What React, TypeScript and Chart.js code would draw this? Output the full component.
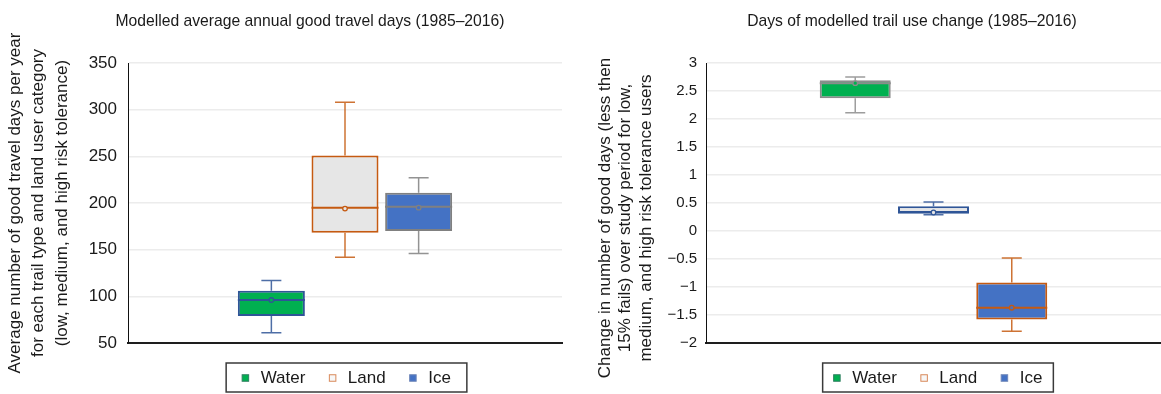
import React, { useEffect, useRef } from 'react';
import { Chart, registerables } from 'chart.js';

Chart.register(...registerables);

const FONT = '"Liberation Sans", Arial, Helvetica, sans-serif';
const TEXT = '#1a1a1a';

// ---- Data ----
const seriesNames = ['Water', 'Land', 'Ice'];

// Left panel: modelled average annual good travel days
const daysMin = [61, 142, 146];
const daysQ1 = [79, 168, 170];
const daysMedian = [96, 195, 196];
const daysQ3 = [106, 251, 211];
const daysMax = [117, 308, 227];
const daysMean = [96, 194, 195];
const daysTicks = [50, 100, 150, 200, 250, 300, 350];

// Right panel: change in days of trail use
const changeMin = [2.11, 0.29, -1.79];
const changeQ1 = [2.37, 0.31, -1.58];
const changeMedian = [2.64, 0.34, -1.37];
const changeQ3 = [2.69, 0.44, -0.92];
const changeMax = [2.75, 0.52, -0.48];
const changeMean = [2.64, 0.33, -1.37];
const changeTicks = [-2, -1.5, -1, -0.5, 0, 0.5, 1, 1.5, 2, 2.5, 3];

// ---- Styles ----
const leftFill = ['#00b050', '#e6e6e6', '#4472c4'];
const leftBorder = ['#2f5597', '#c55a11', '#808080'];
const rightFill = ['#00b050', '#e6e6e6', '#4472c4'];
const rightBorder = ['#8c8c8c', '#2f5597', '#c55a11'];
const legendFill = ['#00b050', '#f7f7f7', '#4472c4'];
const legendStroke = ['#2f7f60', '#d9895a', '#6f86b8'];

function boxPlugin() {
  return {
    id: 'boxExtras',
    beforeDatasetsDraw(chart: any) {
      const ctx = chart.ctx;
      const y = chart.scales.y;
      chart.data.datasets.forEach((ds: any, i: number) => {
        const bar = chart.getDatasetMeta(i).data[0];
        if (!bar) return;
        const x = bar.x;
        const cap = 10;
        ctx.save();
        ctx.strokeStyle = ds.borderColor;
        ctx.globalAlpha = 0.85;
        ctx.lineWidth = 1.5;
        const yq1 = y.getPixelForValue(ds.q1);
        const yq3 = y.getPixelForValue(ds.q3);
        const ymin = y.getPixelForValue(ds.wMin);
        const ymax = y.getPixelForValue(ds.wMax);
        ctx.beginPath();
        ctx.moveTo(x, yq3);
        ctx.lineTo(x, ymax);
        ctx.moveTo(x - cap, ymax);
        ctx.lineTo(x + cap, ymax);
        ctx.moveTo(x, yq1);
        ctx.lineTo(x, ymin);
        ctx.moveTo(x - cap, ymin);
        ctx.lineTo(x + cap, ymin);
        ctx.stroke();
        ctx.restore();
      });
    },
    afterDatasetsDraw(chart: any) {
      const ctx = chart.ctx;
      const y = chart.scales.y;
      chart.data.datasets.forEach((ds: any, i: number) => {
        const bar = chart.getDatasetMeta(i).data[0];
        if (!bar) return;
        const x = bar.x;
        const w = bar.width;
        ctx.save();
        ctx.strokeStyle = ds.borderColor;
        ctx.lineWidth = 2;
        const ym = y.getPixelForValue(ds.median);
        ctx.beginPath();
        ctx.moveTo(x - w / 2, ym);
        ctx.lineTo(x + w / 2, ym);
        ctx.stroke();
        const ymean = y.getPixelForValue(ds.mean);
        ctx.beginPath();
        ctx.arc(x, ymean, 2.3, 0, Math.PI * 2);
        ctx.fillStyle = ds.backgroundColor;
        ctx.fill();
        ctx.lineWidth = 1.3;
        ctx.stroke();
        ctx.restore();
      });
    },
  };
}

function titlePlugin(text: string, cx: number, cy: number) {
  return {
    id: 'panelTitle',
    afterDraw(chart: any) {
      const ctx = chart.ctx;
      ctx.save();
      ctx.font = `15.7px ${FONT}`;
      ctx.fillStyle = TEXT;
      ctx.textAlign = 'center';
      ctx.textBaseline = 'middle';
      ctx.fillText(text, cx, cy);
      ctx.restore();
    },
  };
}

function yTitlePlugin(lines: string[], x0: number, spacing: number, cy: number, size: number) {
  return {
    id: 'yTitle',
    afterDraw(chart: any) {
      const ctx = chart.ctx;
      ctx.save();
      ctx.font = `${size}px ${FONT}`;
      ctx.fillStyle = TEXT;
      ctx.textAlign = 'center';
      ctx.textBaseline = 'middle';
      lines.forEach((line, i) => {
        ctx.save();
        ctx.translate(x0 + i * spacing, cy);
        ctx.rotate(-Math.PI / 2);
        ctx.fillText(line, 0, 0);
        ctx.restore();
      });
      ctx.restore();
    },
  };
}

function legendPlugin(padX: number, offsetX: number) {
  return {
    id: 'boxLegend',
    afterDraw(chart: any) {
      const ctx = chart.ctx;
      const top = 363;
      const h = 29;
      const marker = 6.5;
      const gapMT = 12;
      const gapItems = 24;
      ctx.save();
      ctx.font = `17px ${FONT}`;
      const widths = seriesNames.map((s) => ctx.measureText(s).width);
      let total = padX * 2 + gapItems * (seriesNames.length - 1);
      widths.forEach((w) => (total += marker + gapMT + w));
      const cx = (chart.chartArea.left + chart.chartArea.right) / 2 + offsetX;
      const left = cx - total / 2;
      ctx.strokeStyle = '#3a3a3a';
      ctx.lineWidth = 1.5;
      ctx.strokeRect(left, top, total, h);
      let x = left + padX;
      const my = top + h / 2 + 0.5;
      seriesNames.forEach((s, i) => {
        ctx.fillStyle = legendFill[i];
        ctx.fillRect(x, my - marker / 2, marker, marker);
        ctx.strokeStyle = legendStroke[i];
        ctx.lineWidth = 1;
        ctx.strokeRect(x, my - marker / 2, marker, marker);
        x += marker + gapMT;
        ctx.fillStyle = TEXT;
        ctx.textAlign = 'left';
        ctx.textBaseline = 'middle';
        ctx.fillText(s, x, my);
        x += widths[i] + gapItems;
      });
      ctx.restore();
    },
  };
}

type PanelCfg = {
  width: number;
  q1: number[];
  q3: number[];
  min: number[];
  max: number[];
  median: number[];
  mean: number[];
  fill: string[];
  border: string[];
  ticks: number[];
  yTitle: string[];
  yTitleSize: number;
  yTitleX: number;
  yTitleSpacing: number;
  yTitleY: number;
  tickSize: number;
  tickPad: number;
  axisWidth: number;
  padRight: number;
  catPct: number;
  barPct: number;
  title: string;
  titleX: number;
  legendPad: number;
  legendOffset: number;
  fmt: (v: number) => string;
};

function Panel({ cfg }: { cfg: PanelCfg }) {
  const ref = useRef<HTMLCanvasElement | null>(null);
  useEffect(() => {
    if (!ref.current) return;
    const datasets = seriesNames.map((name, i) => ({
      label: name,
      data: [[cfg.q1[i], cfg.q3[i]]],
      backgroundColor: cfg.fill[i],
      borderColor: cfg.border[i],
      borderWidth: 2,
      borderSkipped: false,
      q1: cfg.q1[i],
      q3: cfg.q3[i],
      wMin: cfg.min[i],
      wMax: cfg.max[i],
      median: cfg.median[i],
      mean: cfg.mean[i],
    }));
    const tickVals = cfg.ticks;
    const chart = new Chart(ref.current, {
      type: 'bar',
      data: { labels: [''], datasets: datasets as any },
      options: {
        responsive: false,
        animation: false,
        categoryPercentage: cfg.catPct,
        barPercentage: cfg.barPct,
        layout: { padding: { left: 0, right: cfg.padRight, top: 63, bottom: 51 } },
        plugins: {
          legend: { display: false },
          title: { display: false },
          tooltip: { enabled: false },
        },
        scales: {
          x: {
            type: 'category',
            offset: true,
            grid: { display: false, drawTicks: false },
            ticks: { display: false },
            border: { display: true, color: '#1e1e1e', width: 2 },
          },
          y: {
            min: tickVals[0],
            max: tickVals[tickVals.length - 1],
            afterBuildTicks: (scale: any) => {
              scale.ticks = tickVals.map((v) => ({ value: v }));
            },
            afterFit: (scale: any) => {
              scale.width = cfg.axisWidth;
            },
            grid: { color: '#ececec', lineWidth: 1.5, drawTicks: false },
            border: { display: true, color: '#111', width: 1 },
            ticks: {
              padding: cfg.tickPad,
              color: TEXT,
              font: { family: FONT, size: cfg.tickSize },
              callback: (v: any) => cfg.fmt(Number(v)),
            },
            title: { display: false },
          },
        },
      } as any,
      plugins: [
        boxPlugin(),
        titlePlugin(cfg.title, cfg.titleX, 22),
        yTitlePlugin(cfg.yTitle, cfg.yTitleX, cfg.yTitleSpacing, cfg.yTitleY, cfg.yTitleSize),
        legendPlugin(cfg.legendPad, cfg.legendOffset),
      ],
    });
    return () => chart.destroy();
  }, [cfg]);
  return <canvas ref={ref} width={cfg.width} height={394} style={{ display: 'block', width: cfg.width, height: 394 }} />;
}

const leftCfg: PanelCfg = {
  width: 580,
  q1: daysQ1,
  q3: daysQ3,
  min: daysMin,
  max: daysMax,
  median: daysMedian,
  mean: daysMean,
  fill: leftFill,
  border: leftBorder,
  ticks: daysTicks,
  yTitle: [
    'Average number of good travel days per year',
    'for each trail type and land user category',
    '(low, medium, and high risk tolerance)',
  ],
  yTitleSize: 17,
  yTitleX: 15,
  yTitleSpacing: 23.8,
  yTitleY: 203,
  tickSize: 17,
  tickPad: 11,
  axisWidth: 128,
  padRight: 18,
  catPct: 0.509,
  barPct: 0.91,
  title: 'Modelled average annual good travel days (1985–2016)',
  titleX: 310,
  legendPad: 16,
  legendOffset: 1.5,
  fmt: (v) => String(v),
};

const rightCfg: PanelCfg = {
  width: 581,
  q1: changeQ1,
  q3: changeQ3,
  min: changeMin,
  max: changeMax,
  median: changeMedian,
  mean: changeMean,
  fill: rightFill,
  border: rightBorder,
  ticks: changeTicks,
  yTitle: [
    'Change in number of good days (less then',
    '15% fails) over study period for low,',
    'medium, and high risk tolerance users',
  ],
  yTitleSize: 17,
  yTitleX: 25,
  yTitleSpacing: 20.5,
  yTitleY: 218,
  tickSize: 15,
  tickPad: 9,
  axisWidth: 126,
  padRight: 0,
  catPct: 0.516,
  barPct: 0.907,
  title: 'Days of modelled trail use change (1985–2016)',
  titleX: 332,
  legendPad: 11,
  legendOffset: 4.5,
  fmt: (v) => (v < 0 ? '\u2212' + String(-v) : String(v)),
};

export default function App() {
  return (
    <div
      style={{
        position: 'absolute',
        left: 0,
        top: 0,
        width: 1161,
        height: 394,
        background: '#fff',
        display: 'flex',
        overflow: 'hidden',
      }}
    >
      <Panel cfg={leftCfg} />
      <Panel cfg={rightCfg} />
    </div>
  );
}
